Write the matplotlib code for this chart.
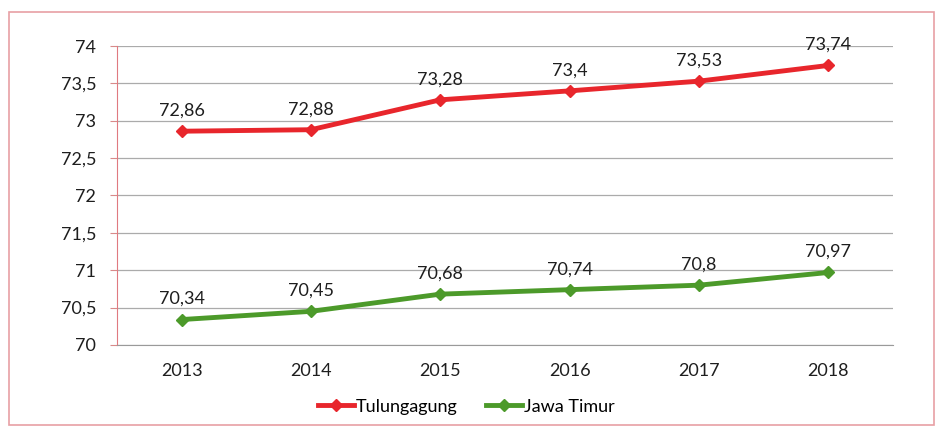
import matplotlib
matplotlib.use("Agg")
import matplotlib.pyplot as plt
from matplotlib.patches import Rectangle

years = ["2013", "2014", "2015", "2016", "2017", "2018"]
tulungagung = [72.86, 72.88, 73.28, 73.40, 73.53, 73.74]
jawa_timur = [70.34, 70.45, 70.68, 70.74, 70.80, 70.97]
y_ticks = [70, 70.5, 71, 71.5, 72, 72.5, 73, 73.5, 74]

RED = "#e8262c"
GREEN = "#4c9a2a"

plt.rcParams["font.family"] = ["Lato", "DejaVu Sans"]


def fmt(v):
    s = f"{v:g}"
    return s.replace(".", ",")


fig = plt.figure(figsize=(9.41, 4.28), dpi=100)
ax = fig.add_axes([0.1243, 0.194, 0.8247, 0.6985])

x = list(range(len(years)))
ax.plot(x, tulungagung, color=RED, lw=3.5, marker="D", ms=6, label="Tulungagung")
ax.plot(x, jawa_timur, color=GREEN, lw=3.5, marker="D", ms=6, label="Jawa Timur")

for xi, v in zip(x, tulungagung):
    ax.annotate(fmt(v), (xi, v), xytext=(0, 9), textcoords="offset points",
                ha="center", va="bottom", fontsize=13, color="#1e1e1e")
for xi, v in zip(x, jawa_timur):
    ax.annotate(fmt(v), (xi, v), xytext=(0, 9), textcoords="offset points",
                ha="center", va="bottom", fontsize=13, color="#1e1e1e")

ax.set_xlim(-0.5, len(years) - 0.5)
ax.set_ylim(70, 74)
ax.set_yticks(y_ticks)
ax.set_yticklabels([fmt(t) for t in y_ticks], fontsize=13, color="#1e1e1e")
ax.set_xticks(x)
ax.set_xticklabels(years, fontsize=13, color="#1e1e1e")
ax.tick_params(axis="x", length=0, pad=13)
ax.tick_params(axis="y", length=5, color="#d88a8a", pad=10)
ax.grid(axis="y", color="#ababab", lw=0.9)
ax.set_axisbelow(True)
for side in ["top", "right"]:
    ax.spines[side].set_visible(False)
ax.spines["left"].set_color("#e07a80")
ax.spines["bottom"].set_color("#9a9a9a")

ax.legend(loc="upper center", bbox_to_anchor=(0.45, -0.125), ncol=2, frameon=False,
          fontsize=13, handlelength=2.0, handletextpad=0.1, columnspacing=1.6)

fig.patches.append(Rectangle((0.01, 0.008), 0.983, 0.965, transform=fig.transFigure,
                             fill=False, edgecolor="#e8a0a4", lw=1.2))

fig.savefig("out.png", dpi=100)
